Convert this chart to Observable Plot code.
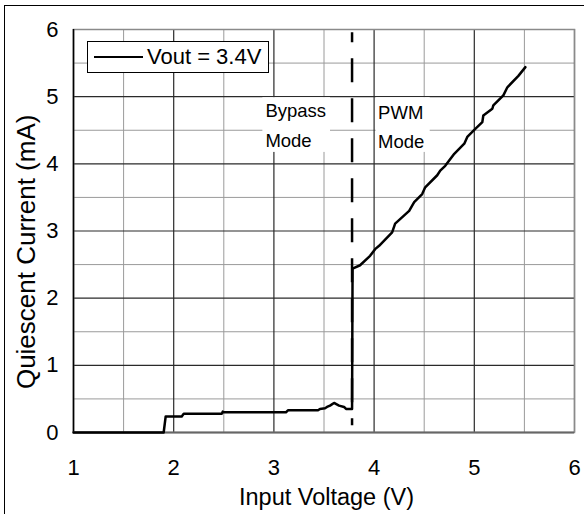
<!DOCTYPE html>
<html>
<head>
<meta charset="utf-8">
<script src="https://cdn.jsdelivr.net/npm/d3@7"></script>
<script src="https://cdn.jsdelivr.net/npm/@observablehq/plot@0.6"></script>
<style>
  html, body { margin: 0; padding: 0; background: #fff; overflow: hidden; }
  #wrap { position: relative; width: 584px; height: 514px; overflow: hidden; font-family: "Liberation Sans", Arial, sans-serif; }
  #chart { position: absolute; left: 0; top: 0; }
  #outer { position: absolute; left: 4px; top: 5px; width: 640px; height: 640px; border: 1px solid #000; box-sizing: border-box; pointer-events: none; }
  #legend { position: absolute; left: 87px; top: 41px; width: 182px; height: 32px; border: 1px solid #000; background: #fff; box-sizing: border-box; display: flex; align-items: center; font-size: 22px; color: #000; white-space: nowrap; }
  #legend svg { margin-left: 6px; margin-right: 4px; }
</style>
</head>
<body>
<div id="wrap">
  <div id="outer"></div>
  <div id="chart"></div>
  <div id="legend"></div>
</div>
<script>
// ---- data ----
const voltage = [1.00, 1.90, 1.92, 2.08, 2.10, 2.48, 2.49, 2.50, 3.12, 3.14, 3.44, 3.46, 3.51, 3.53, 3.56, 3.60, 3.65, 3.70, 3.72, 3.78, 3.785, 3.86, 3.96, 4.01, 4.05, 4.18, 4.21, 4.35, 4.40, 4.48, 4.51, 4.63, 4.66, 4.71, 4.80, 4.90, 4.93, 5.01, 5.08, 5.09, 5.18, 5.19, 5.29, 5.33, 5.44, 5.51];
const current = [0, 0, 0.24, 0.24, 0.28, 0.28, 0.31, 0.30, 0.30, 0.33, 0.33, 0.35, 0.36, 0.38, 0.40, 0.44, 0.40, 0.38, 0.35, 0.35, 2.44, 2.49, 2.63, 2.73, 2.78, 2.98, 3.11, 3.30, 3.43, 3.55, 3.65, 3.83, 3.90, 3.97, 4.15, 4.30, 4.40, 4.52, 4.62, 4.72, 4.82, 4.87, 5.02, 5.14, 5.31, 5.44];
const seriesName = "Vout = 3.4V";
const xTitle = "Input Voltage (V)";
const yTitle = "Quiescent Current (mA)";

const xTicks = [1, 2, 3, 4, 5, 6];
const yTicks = [0, 1, 2, 3, 4, 5, 6];
const xMinor = [1.5, 2.5, 3.5, 4.5, 5.5];
const yMinor = [0.5, 1.5, 2.5, 3.5, 4.5, 5.5];

const modeBoundary = 3.78;          // dashed divider (V)
const modeLine = [{x: modeBoundary, top: 5.95, bottom: 0.1}];

const modeLabels = ["Bypass", "Mode", "PWM", "Mode"];
const modeLabelX = [2.915, 2.915, 4.04, 4.04];
const modeLabelY = [4.79, 4.345, 4.76, 4.33];
const modeBoxes = [
  {x1: 2.89, x2: 3.565, y1: 4.17, y2: 4.985},
  {x1: 4.02, x2: 4.56, y1: 4.17, y2: 4.985}
];

// ---- build ----
const points = voltage.map((v, i) => ({v, c: current[i]}));
const labels = modeLabels.map((t, i) => ({t, x: modeLabelX[i], y: modeLabelY[i]}));
const fmt = d => String(d);

const chart = Plot.plot({
  width: 584,
  height: 514,
  marginLeft: 73,
  marginRight: 10,
  marginTop: 29,
  marginBottom: 82,
  style: {fontFamily: "'Liberation Sans', Arial, sans-serif", fontSize: "22px", background: "transparent", color: "#000", overflow: "visible"},
  x: {domain: [1, 6]},
  y: {domain: [0, 6]},
  marks: [
    Plot.ruleX(xMinor, {stroke: "#9a9a9a", strokeWidth: 1}),
    Plot.ruleY(yMinor, {stroke: "#9a9a9a", strokeWidth: 1}),
    Plot.ruleX(xTicks, {stroke: "#2a2a2a", strokeWidth: 1.2}),
    Plot.ruleY(yTicks, {stroke: "#2a2a2a", strokeWidth: 1.2}),
    Plot.rect(modeBoxes, {x1: "x1", x2: "x2", y1: "y1", y2: "y2", fill: "#fff"}),
    Plot.text(labels, {x: "x", y: "y", text: "t", textAnchor: "start", lineAnchor: "middle", fontSize: 18.5, fill: "#000"}),
    Plot.ruleX(modeLine, {x: "x", y1: "top", y2: "bottom", stroke: "#000", strokeWidth: 2.5, strokeDasharray: "24,16", strokeDashoffset: 14}),
    Plot.frame({stroke: "#8a8a8a", strokeWidth: 1.5}),
    Plot.ruleX([1], {stroke: "#000", strokeWidth: 1.5}),
    Plot.ruleY([0], {stroke: "#666", strokeWidth: 2}),
    Plot.line(points, {x: "v", y: "c", stroke: "#000", strokeWidth: 2.5, strokeLinejoin: "round"}),
    Plot.axisX(xTicks, {tickSize: 0, tickPadding: 27, fontSize: 22, tickFormat: fmt, label: null}),
    Plot.axisY(yTicks, {tickSize: 0, tickPadding: 15, fontSize: 22, tickFormat: fmt, label: null}),
    Plot.text([xTitle], {x: [3.525], frameAnchor: "bottom", textAnchor: "middle", lineAnchor: "bottom", dy: 72, fontSize: 23.5, fill: "#000", text: d => d}),
    Plot.text([yTitle], {y: [2.69], frameAnchor: "left", textAnchor: "middle", lineAnchor: "middle", rotate: -90, dx: -47, fontSize: 26, fill: "#000", text: d => d})
  ]
});
document.getElementById("chart").appendChild(chart);

// legend
const lg = document.getElementById("legend");
const ns = "http://www.w3.org/2000/svg";
const sw = document.createElementNS(ns, "svg");
sw.setAttribute("width", 49); sw.setAttribute("height", 6);
const ln = document.createElementNS(ns, "line");
ln.setAttribute("x1", 0); ln.setAttribute("x2", 49); ln.setAttribute("y1", 3); ln.setAttribute("y2", 3);
ln.setAttribute("stroke", "#000"); ln.setAttribute("stroke-width", 2);
sw.appendChild(ln);
lg.appendChild(sw);
const sp = document.createElement("span");
sp.textContent = seriesName;
lg.appendChild(sp);
</script>
</body>
</html>
